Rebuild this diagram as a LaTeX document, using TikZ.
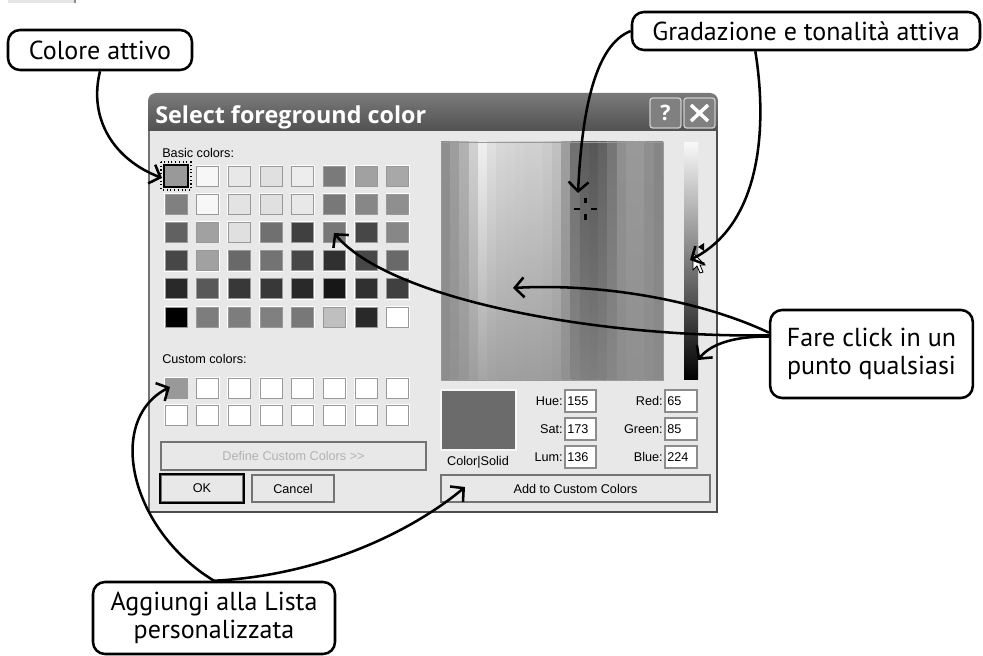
\documentclass[tikz,border=0pt]{standalone}
\usepackage{fontspec}
\setmainfont{PT Sans}
\newfontfamily\uifont{Liberation Sans}
\newfontfamily\titlefont{Open Sans}
\usetikzlibrary{arrows.meta}
\tikzset{
  callout/.style={draw,line width=1.9pt,rounded corners=9pt,fill=white,align=center,inner sep=0pt,font=\fontsize{19.5}{21}\selectfont},
  callarrow/.style={line width=1.9pt,-{Straight Barb[length=7pt,width=15pt,line width=1.9pt]}},
  uitext/.style={inner sep=0pt,font=\uifont\fontsize{9.5}{11}\selectfont},
  field/.style={fill=white,draw=black!45,line width=0.8pt},
  winbtn/.style={fill=white!91!black,draw=black!55,line width=0.9pt},
  titlebtn/.style={fill=white!50!black,draw=white!80!black,line width=1pt,rounded corners=2pt}
}
\begin{document}
\begin{tikzpicture}[x=0.75pt,y=-0.75pt]
       \useasboundingbox (0,0) rectangle (983,656);
       \fill[white] (0,0) rectangle (983,656);
       \fill[white!90!black] (8,0) rectangle (74,3);
       \fill[black!45] (74,0) rectangle (76,3);
       % window
       \fill[white!91!black] (148,131) rectangle (718,513);
       \shade[top color=white!48!black,bottom color=white!32!black] (148,131) [rounded corners=6pt] -- (148,93) -- (718,93) [sharp corners] -- (718,131) -- cycle;
       \draw[black!55,line width=1pt] (149,131) -- (149,512);
       \draw[black!70,line width=2.2pt] (148,512) -- (717,512) -- (717,131);
       \node[anchor=base west,inner sep=0pt,text=white,font=\titlefont\bfseries\fontsize{17.5}{20}\selectfont] (title) at (155,124) {Select foreground color};
       \draw[titlebtn] (650,98) rectangle (681,128);
       \draw[titlebtn] (684,98) rectangle (715,128);
       \node[text=white,font=\titlefont\bfseries\fontsize{16}{18}\selectfont] (helpbtn) at (665.5,113) {?};
       \draw[white,line width=2.6pt] (691,105) -- (708,121) (708,105) -- (691,121);
       % basic colors
       \node[uitext,anchor=west] (basiclbl) at (162,153) {Basic colors:};
       \foreach \r/\vals in {0/{60,97,91,88,93,48,63,66},1/{50,97,89,88,91,47,53,56},2/{38,63,88,44,25,47,28,53},3/{28,63,41,45,28,19,28,41},4/{16,35,22,22,16,9,19,25},5/{0,49,49,50,47,75,16,100}}
         \foreach \v [count=\c from 0] in \vals {
           \fill[white] (165+31.7*\c-1,166+28.2*\r-1) rectangle (165+31.7*\c+23,166+28.2*\r+21);
           \filldraw[fill=white!\v!black,draw=black!40,line width=0.7pt] (165+31.7*\c,166+28.2*\r) rectangle (165+31.7*\c+22,166+28.2*\r+20);
         }
       \draw[black,line width=1.3pt] (164,165) rectangle (188,187);
       \draw[black,dotted,line width=0.8pt] (161,162) rectangle (191,190);
       % custom colors
       \node[uitext,anchor=west] (customlbl) at (162,359) {Custom colors:};
       \foreach \r in {0,1}
         \foreach \c in {0,...,7} {
           \fill[white] (165+31.7*\c-1,378+27*\r-1) rectangle (165+31.7*\c+23,378+27*\r+21);
           \filldraw[fill=white,draw=black!40,line width=0.7pt] (165+31.7*\c,378+27*\r) rectangle (165+31.7*\c+22,378+27*\r+20);
         }
       \fill[white!60!black] (165,378) rectangle (187,398);
       % buttons
       \draw[winbtn] (161,442) rectangle (426,470);
       \node[uitext,text=black!30] (definebtn) at (293.5,456) {Define Custom Colors >>};
       \draw[winbtn] (161,475) rectangle (243,502);
       \draw[black,line width=0.9pt] (160,474) rectangle (244,503);
       \node[uitext] (okbtn) at (202,488.5) {OK};
       \draw[winbtn] (252,475) rectangle (334,502);
       \node[uitext] (cancelbtn) at (293,488.5) {Cancel};
       \draw[winbtn] (441,475) rectangle (710,502);
       \node[uitext] (addbtn) at (575.5,488.5) {Add to Custom Colors};
       % spectrum
       \foreach \v [count=\c from 0] in {56,62,70,82,94,88,85,84,83,82,82,80,76,62,44,36,34,38,46,56,60,60,56,52} {
         \pgfmathsetmacro{\b}{0.25*\v+0.75*55}
         \shade[top color=white!\v!black,bottom color=white!\b!black] (441+9.25*\c,142) rectangle (441+9.25*\c+9.35,380);
       }
       \draw[black!40,line width=0.6pt] (441,142) rectangle (663,380);
       \draw[black,line width=2.2pt] (585.5,198) -- (585.5,203) (585.5,214) -- (585.5,220) (574,209) -- (580,209) (591,209) -- (597,209);
       % luminance bar
       \shade[top color=white!97!black,middle color=white!38!black,bottom color=black] (684,143) rectangle (698,380);
       \fill[black] (698,247) -- (704,243) -- (704,251) -- cycle;
       \filldraw[fill=white,draw=black,line width=0.6pt] (693,253) -- (693,270) -- (697,266) -- (700,273) -- (703,272) -- (700,265) -- (705,265) -- cycle;
       % colour fields
       \filldraw[fill=white!42!black,draw=white!97!black,line width=0.8pt] (441,390) rectangle (516,450);
       \node[uitext] (solidlbl) at (478,462) {Color|Solid};
       \foreach \name/\val/\y in {Hue/155/401,Sat/173/429,Lum/136/457} {
         \node[uitext,anchor=east] (lbl\name) at (563,\y) {\name:};
         \draw[field] (565,\y-11) rectangle (596,\y+11);
         \node[uitext,anchor=west] (val\name) at (567,\y) {\val};
       }
       \foreach \name/\val/\y in {Red/65/401,Green/85/429,Blue/224/457} {
         \node[uitext,anchor=east] (lbl\name) at (663,\y) {\name:};
         \draw[field] (665,\y-11) rectangle (697,\y+11);
         \node[uitext,anchor=west] (val\name) at (667,\y) {\val};
       }
       % callouts
       \node[callout,minimum width=138pt,minimum height=30pt] (colatt) at (100,50) {Colore attivo};
       \node[callout,minimum width=261pt,minimum height=28.5pt] (grad) at (806,31) {Gradazione e tonalità attiva};
       \node[callout,minimum width=152pt,minimum height=66pt] (fare) at (871.5,354) {Fare click in un\\punto qualsiasi};
       \node[callout,minimum width=181.5pt,minimum height=54pt] (aggiungi) at (214,618) {Aggiungi alla Lista\\personalizzata};
       \coordinate (selcell) at (162,178);
       \coordinate (crosspt) at (578,193);
       \coordinate (lumpt) at (690,260);
       \coordinate (specpt) at (513,288);
       \coordinate (gridpt) at (334,233);
       \coordinate (lumlow) at (698,360);
       \coordinate (custpt) at (170,387);
       \coordinate (addpt) at (465,487);
       \draw[callarrow] (colatt.south) .. controls (88,120) and (115,160) .. (selcell);
       \draw[callarrow] (grad.west) .. controls (595,45) and (582,110) .. (crosspt);
       \draw[callarrow] ([xshift=-38pt]grad.south) .. controls (768,130) and (760,225) .. (lumpt);
       \draw[callarrow] ([yshift=16pt]fare.west) .. controls (700,300) and (600,283) .. (specpt);
       \draw[callarrow] ([yshift=14pt]fare.west) .. controls (600,338) and (390,300) .. (gridpt);
       \draw[callarrow] ([yshift=13pt]fare.west) .. controls (740,336) and (712,342) .. (lumlow);
       \draw[callarrow] (aggiungi.north) .. controls (130,530) and (105,420) .. (custpt);
       \draw[callarrow] (aggiungi.north) .. controls (330,575) and (420,525) .. (addpt);
\end{tikzpicture}
\end{document}
